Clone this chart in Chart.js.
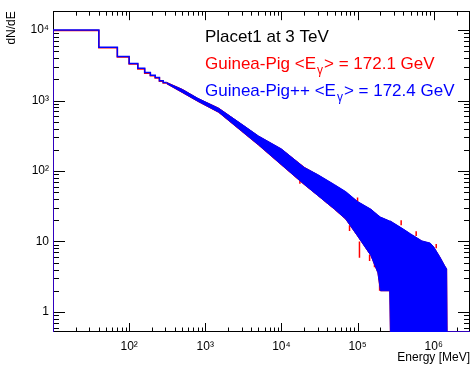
<!DOCTYPE html>
<html>
<head>
<meta charset="utf-8">
<script src="https://cdn.jsdelivr.net/npm/chart.js@4/dist/chart.umd.min.js"></script>
<style>
  html, body { margin: 0; padding: 0; background: #fff; }
  #wrap { width: 472px; height: 366px; }
</style>
</head>
<body>
<div id="wrap"><canvas id="myCanvas"></canvas></div>
<script>
'use strict';

// data

// low energy bins, 30 MeV wide (left edges, last one closes the last bin)
const binEdges = [10, 40, 70, 100, 130, 160, 190, 220, 250, 280, 310];
const blueSteps = [10000, 5710, 4220, 3360, 2860, 2490, 2280, 2120, 1900, 1800];
const redSteps = [9850, 5600, 4150, 3300, 2800, 2440, 2240, 2080, 1870, 1770];

// above 310 MeV the bins get thinner than a pixel, so the histogram is a noisy band:
// upper and lower edge of that band (0.52 = empty bins, drawn on the x axis)
const bandE = [310, 500, 800, 1500, 3000, 5000, 1e4, 2e4, 3e4, 5e4, 7e4, 1e5, 1.5e5, 1.85e5, 2e5,
  2.65e5, 2.7e5, 3e5, 4e5, 5e5, 7e5, 9e5, 1e6, 1.2e6, 1.4e6, 1.48e6, 1.5e6, 3e6];
const blueHigh = [1800, 1436, 1074, 776, 463, 314, 206, 112, 89, 64, 51, 37, 28.7, 23.7, 22.2,
  19.5, 19.5, 18.2, 15, 12.8, 10.2, 9.5, 8.4, 6.1, 4.5, 4.1, 0.52, 0.52];
const blueLow = [1745, 1303, 975, 683, 369, 235, 123, 64.5, 45, 28.7, 20.8, 12, 6.3, 3.6, 2,
  2, 0.52, 0.52, 0.52, 0.52, 0.52, 0.52, 0.52, 0.52, 0.52, 0.52, 0.52, 0.52];
const redHigh = [1810, 1440, 1070, 780, 460, 312, 204, 113, 88, 63, 50, 36.5, 28.4, 23.4, 22,
  19.3, 19.3, 18, 14.8, 12.6, 10.1, 9.4, 8.3, 6.05, 4.45, 4.05, 0.52, 0.52];
const redLow = [1730, 1295, 970, 678, 366, 233, 122, 64, 45, 28.5, 20.7, 12, 6.3, 3.6, 2,
  2, 0.52, 0.52, 0.52, 0.52, 0.52, 0.52, 0.52, 0.52, 0.52, 0.52, 0.52, 0.52];

// single red bins sticking out of the blue band
const redSpikeE = [1.75e4, 4.04e4, 7.85e4, 1.06e5, 1.44e5, 1.67e5, 1.95e5, 2.05e5, 1e5, 3.74e5, 5.89e5, 1.08e6];
const redSpikeTop = [76, 40, 17, 10, 6.5, 5, 3.5, 3.5, 42, 20, 14, 9.2];
const redSpikeBottom = [66, 34, 14.1, 5.9, 5.3, 4.3, 2, 2, 36, 17, 12, 8];

// axes
const xTickVals = [100, 1e3, 1e4, 1e5, 1e6];
const xTickLabels = ['10²', '10³', '10⁴', '10⁵', '10⁶'];
const yTickVals = [1, 10, 100, 1e3, 1e4];
const yTickLabels = ['1', '10', '10²', '10³', '10⁴'];
const xMin = 10, xMax = 3e6, yMin = 0.52, yMax = 1.85e4;

const BLUE = '#0000ff';
const RED = '#ff0000';

// helpers to build the point lists

function stepPoints(edges, counts) {
  let pts = [{x: edges[0], y: yMin}];
  for (let i = 0; i < counts.length; i++) {
    pts.push({x: edges[i], y: counts[i]});
  }
  pts.push({x: edges[edges.length - 1], y: counts[counts.length - 1]});
  return pts;
}

function bandPoints(xs, ys) {
  return xs.map((x, i) => ({x: x, y: ys[i]}));
}

function spikePoints(xs, tops, bottoms) {
  let pts = [];
  for (let i = 0; i < xs.length; i++) {
    pts.push({x: xs[i], y: tops[i]});
    pts.push({x: xs[i], y: bottoms[i]});
    pts.push({x: xs[i], y: null});
  }
  return pts;
}

function lineSet(data, color, extra) {
  return Object.assign({
    data: data,
    borderColor: color,
    backgroundColor: color,
    borderWidth: 1,
    pointRadius: 0,
    fill: false
  }, extra || {});
}

// frame and ticks on all four sides go under the histograms (like ROOT),
// the text block goes on top
const rootStyle = {
  id: 'rootStyle',
  beforeDatasetsDraw(chart) {
    const ctx = chart.ctx;
    const a = chart.chartArea;
    const xs = chart.scales.x;
    const ys = chart.scales.y;
    ctx.save();
    ctx.strokeStyle = '#000';
    ctx.lineWidth = 1;
    ctx.beginPath();
    // x ticks
    for (let d = 10; d <= xMax; d *= 10) {
      for (let m = 1; m <= 9; m++) {
        const v = d * m;
        if (v <= xMin || v >= xMax) continue;
        const px = Math.round(xs.getPixelForValue(v)) + 0.5;
        const len = m === 1 ? 9 : 4.5;
        ctx.moveTo(px, a.bottom);
        ctx.lineTo(px, a.bottom - len);
        ctx.moveTo(px, a.top);
        ctx.lineTo(px, a.top + len);
      }
    }
    // y ticks
    for (let d = 0.1; d <= yMax; d *= 10) {
      for (let m = 1; m <= 9; m++) {
        const v = d * m;
        if (v <= yMin || v >= yMax) continue;
        const py = Math.round(ys.getPixelForValue(v)) + 0.5;
        const len = m === 1 ? 12 : 6;
        ctx.moveTo(a.left, py);
        ctx.lineTo(a.left + len, py);
        ctx.moveTo(a.right, py);
        ctx.lineTo(a.right - len, py);
      }
    }
    ctx.stroke();
    ctx.strokeRect(Math.round(a.left) + 0.5, Math.round(a.top) + 0.5,
      Math.round(a.right - a.left) - 1, Math.round(a.bottom - a.top) - 1);
    ctx.restore();
  },
  afterDatasetsDraw(chart) {
    const ctx = chart.ctx;
    ctx.save();
    const lines = [
      {y: 42, color: '#000', before: 'Placet1 at 3 TeV', sub: '', after: ''},
      {y: 69, color: RED, before: 'Guinea-Pig <E', sub: 'γ', after: '> = 172.1 GeV'},
      {y: 96, color: BLUE, before: 'Guinea-Pig++ <E', sub: 'γ', after: '> = 172.4 GeV'}
    ];
    const big = '17px "Liberation Sans", Arial, sans-serif';
    ctx.textBaseline = 'alphabetic';
    ctx.textAlign = 'left';
    for (let i = 0; i < lines.length; i++) {
      const l = lines[i];
      let x = 205;
      ctx.fillStyle = l.color;
      ctx.font = big;
      ctx.fillText(l.before, x, l.y);
      x += ctx.measureText(l.before).width;
      if (l.sub) {
        ctx.font = '12px "Liberation Sans", Arial, sans-serif';
        ctx.fillText(l.sub, x + 1, l.y + 5);
        x += ctx.measureText(l.sub).width + 2;
        ctx.font = big;
        ctx.fillText(l.after, x, l.y);
      }
    }
    ctx.restore();
  }
};

const datasets = [
  lineSet(stepPoints(binEdges, blueSteps), BLUE, {stepped: 'before', borderWidth: 1.5}),
  lineSet(bandPoints(bandE, blueHigh), BLUE, {fill: '+1'}),
  lineSet(bandPoints(bandE, blueLow), BLUE),
  lineSet(stepPoints(binEdges, redSteps), RED, {stepped: 'before', borderWidth: 1.5}),
  lineSet(bandPoints(bandE, redHigh), RED, {fill: '+1'}),
  lineSet(bandPoints(bandE, redLow), RED),
  lineSet(spikePoints(redSpikeE, redSpikeTop, redSpikeBottom), RED, {borderWidth: 1.5, spanGaps: false})
];

const font = {family: '"Liberation Sans", Arial, sans-serif', size: 12};

const config = {
  type: 'line',
  data: {datasets: datasets},
  options: {
    responsive: true,
    maintainAspectRatio: false,
    devicePixelRatio: 1,
    animation: false,
    layout: {padding: {top: 8, right: 2, left: 0, bottom: 0}},
    plugins: {
      legend: {display: false},
      tooltip: {enabled: false}
    },
    scales: {
      x: {
        type: 'logarithmic',
        min: xMin,
        max: xMax,
        grid: {display: false, drawTicks: false},
        border: {display: false},
        afterBuildTicks: (s) => { s.ticks = xTickVals.map(v => ({value: v})); },
        afterFit: (s) => { s.height = 34; },
        ticks: {
          autoSkip: false,
          maxRotation: 0,
          padding: 7,
          color: '#000',
          font: font,
          callback: (v) => xTickLabels[xTickVals.indexOf(v)]
        },
        title: {
          display: true,
          text: 'Energy [MeV]',
          align: 'end',
          color: '#000',
          font: font,
          padding: {top: 0, bottom: 1}
        }
      },
      y: {
        type: 'logarithmic',
        min: yMin,
        max: yMax,
        grid: {display: false, drawTicks: false},
        border: {display: false},
        afterBuildTicks: (s) => { s.ticks = yTickVals.map(v => ({value: v})); },
        afterFit: (s) => { s.width = 53; },
        ticks: {
          autoSkip: false,
          padding: 4,
          color: '#000',
          font: font,
          callback: (v) => yTickLabels[yTickVals.indexOf(v)]
        },
        title: {
          display: true,
          text: 'dN/dE',
          align: 'end',
          color: '#000',
          font: font,
          padding: {top: 4, bottom: 0}
        }
      }
    }
  },
  plugins: [rootStyle]
};

const chart = document.getElementById('myCanvas');
const myChart = new Chart(chart, config);
</script>
</body>
</html>
